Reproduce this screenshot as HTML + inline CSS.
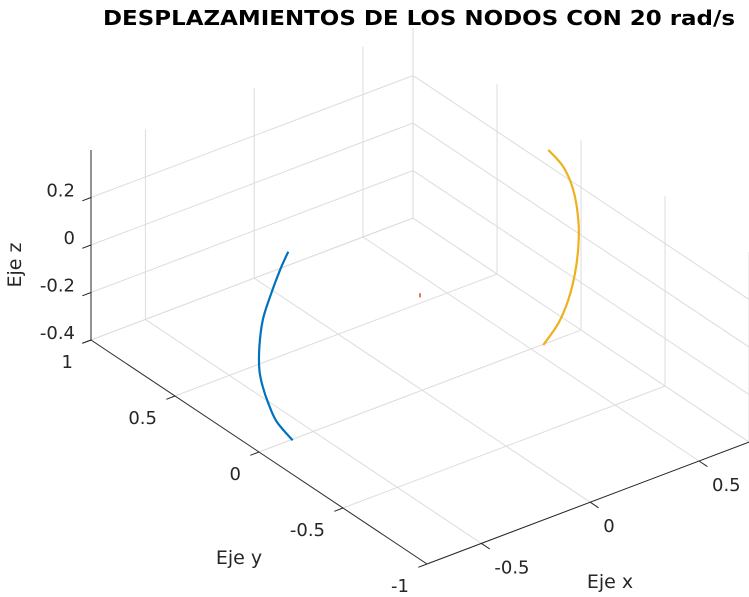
<!DOCTYPE html>
<html><head><meta charset="utf-8"><style>
html,body{margin:0;padding:0;background:#fff;}
svg{display:block;font-family:"DejaVu Sans","Liberation Sans",sans-serif;}
</style></head><body>
<svg id="chart" width="749" height="597" viewBox="0 0 749 597" xmlns="http://www.w3.org/2000/svg">
<rect width="749" height="597" fill="#fff"/>
<g id="grid"></g>
<g id="axes"></g>
<g id="series"></g>
<text x="419" y="25" text-anchor="middle" font-weight="bold" font-size="20" textLength="632" lengthAdjust="spacingAndGlyphs" fill="#000">DESPLAZAMIENTOS DE LOS NODOS CON 20 rad/s</text>
<text x="0" y="0" transform="translate(21,265) rotate(-90)" text-anchor="middle" font-size="19" fill="#262626">Eje z</text>
<text x="239" y="564" text-anchor="middle" font-size="19" fill="#262626">Eje y</text>
<text x="610" y="588" text-anchor="middle" font-size="19" fill="#262626">Eje x</text>
</svg>
<script>
const xTicks=[-0.5,0,0.5];
const yTicks=[-1,-0.5,0,0.5,1];
const zTicks=[-0.4,-0.2,0,0.2];
const xTickLabels=["-0.5","0","0.5"];
const yTickLabels=["-1","-0.5","0","0.5","1"];
const zTickLabels=["-0.4","-0.2","0","0.2"];
const xLim=[-0.75,0.73];
const yLim=[-1,1];
const zLim=[-0.4,0.4];
// node 1 (blue)
const blueX=[-0.6,-0.6,-0.6,-0.6,-0.6,-0.6,-0.6,-0.6,-0.6,-0.6];
const blueY=[0.020,0.069,0.129,0.172,0.192,0.192,0.172,0.139,0.089,-0.006];
const blueZ=[0.382,0.282,0.140,0.022,-0.099,-0.197,-0.258,-0.312,-0.366,-0.400];
// node 2 (red)
const redX=[-0.01,-0.01];
const redY=[0,0];
const redZ=[-0.006,0.012];
// node 3 (orange)
const orangeX=[0.55,0.55,0.55,0.55,0.55,0.55,0.55,0.55,0.55];
const orangeY=[-0.038,-0.127,-0.187,-0.217,-0.217,-0.197,-0.157,-0.098,-0.008];
const orangeZ=[0.439,0.410,0.340,0.228,0.116,-0.006,-0.137,-0.263,-0.397];

const NS="http://www.w3.org/2000/svg";
const O=[422.2,390.2], EX=[217.6,-82.4], EY=[-168,-112], EZ=237.5;
function P(x,y,z){return [O[0]+x*EX[0]+y*EY[0], O[1]+x*EX[1]+y*EY[1]-(z-zLim[0])*EZ];}
function line(g,a,b,stroke,w,name){
  const l=document.createElementNS(NS,'line');
  l.setAttribute('x1',a[0]);l.setAttribute('y1',a[1]);l.setAttribute('x2',b[0]);l.setAttribute('y2',b[1]);
  l.setAttribute('stroke',stroke);l.setAttribute('stroke-width',w);
  
  
  g.appendChild(l);
}
function text(g,x,y,s,anchor,name){
  const t=document.createElementNS(NS,'text');
  t.setAttribute('x',x);t.setAttribute('y',y);t.setAttribute('text-anchor',anchor);
  t.setAttribute('font-size','18');t.setAttribute('fill','#262626');
  
  
  t.textContent=s;g.appendChild(t);
}
const grid=document.getElementById('grid'), axes=document.getElementById('axes'), series=document.getElementById('series');
const gc='#dcdcdc';
const [x0,x1]=xLim,[y0,y1]=yLim,[z0,z1]=zLim;
xTicks.forEach(x=>line(grid,P(x,y0,z0),P(x,y1,z0),gc,1,'floor-grid-x'));
yTicks.forEach(y=>line(grid,P(x0,y,z0),P(x1,y,z0),gc,1,'floor-grid-y'));
xTicks.concat([x1]).forEach(x=>line(grid,P(x,y1,z0),P(x,y1,z1),gc,1,'back-wall-grid-x'));
zTicks.forEach(z=>line(grid,P(x0,y1,z),P(x1,y1,z),gc,1,'back-wall-grid-z'));
yTicks.forEach(y=>line(grid,P(x1,y,z0),P(x1,y,z1),gc,1,'right-wall-grid-y'));
zTicks.forEach(z=>line(grid,P(x1,y0,z),P(x1,y1,z),gc,1,'right-wall-grid-z'));
const ac='#262626';
line(axes,P(x0,y1,z0),P(x0,y1,z1),ac,1,'z-axis-line');
line(axes,P(x0,y0,z0),P(x0,y1,z0),ac,1,'y-axis-line');
line(axes,P(x0,y0,z0),P(x1,y0,z0),ac,1,'x-axis-line');
zTicks.forEach((z,i)=>{const p=P(x0,y1,z);line(axes,p,P(x0-0.04,y1,z),ac,1,'z-tick');
  text(axes,p[0]-16,p[1]-1,zTickLabels[i],'end','z-tick-label');});
yTicks.forEach((y,i)=>{const p=P(x0,y,z0);line(axes,p,P(x0-0.04,y,z0),ac,1,'y-tick');
  text(axes,p[0]-18,p[1]+28,yTickLabels[i],'end','y-tick-label');});
xTicks.forEach((x,i)=>{const p=P(x,y0,z0);line(axes,p,P(x,y0-0.05,z0),ac,1,'x-tick');
  text(axes,p[0]+13,p[1]+30,xTickLabels[i],'start','x-tick-label');});
function curve(X,Y,Z,color,w,name){
  const pts=X.map((x,i)=>P(x,Y[i],Z[i]));
  let d='M'+pts[0][0]+','+pts[0][1];
  for(let i=0;i<pts.length-1;i++){
    const p0=pts[Math.max(i-1,0)],p1=pts[i],p2=pts[i+1],p3=pts[Math.min(i+2,pts.length-1)];
    const c1=[p1[0]+(p2[0]-p0[0])/6,p1[1]+(p2[1]-p0[1])/6];
    const c2=[p2[0]-(p3[0]-p1[0])/6,p2[1]-(p3[1]-p1[1])/6];
    d+=' C'+c1.join(',')+' '+c2.join(',')+' '+p2.join(',');
  }
  const pl=document.createElementNS(NS,'path');
  pl.setAttribute('d',d);
  pl.setAttribute('fill','none');pl.setAttribute('stroke',color);pl.setAttribute('stroke-width',w);
  
  
  series.appendChild(pl);
}
curve(blueX,blueY,blueZ,'#0072BD',2.2,'node1-displacement-blue');
curve(redX,redY,redZ,'#D95319',1.5,'node2-displacement-red');
curve(orangeX,orangeY,orangeZ,'#EDB120',2.2,'node3-displacement-orange');
</script>
</body></html>
